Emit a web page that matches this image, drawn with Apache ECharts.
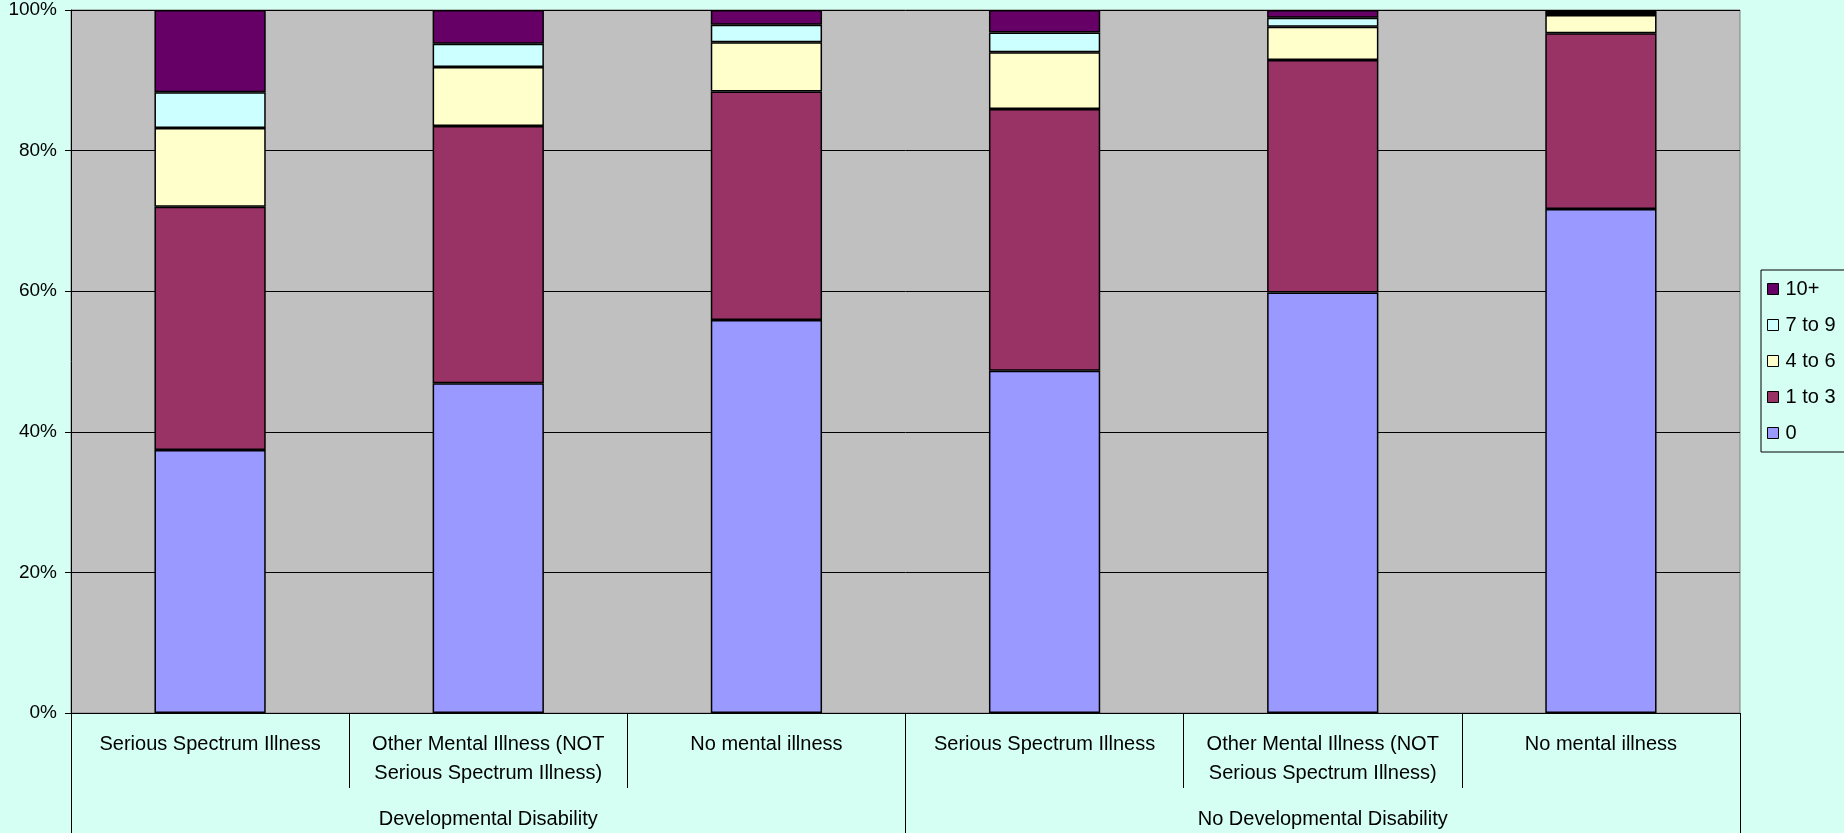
<!DOCTYPE html>
<html>
<head>
<meta charset="utf-8">
<title>Stacked bars</title>
<script src="https://cdn.jsdelivr.net/npm/echarts@6/dist/echarts.min.js"></script>
<style>
  html, body {
    margin: 0;
    padding: 0;
    background: #d4fff2;
  }
  #chart {
    width: 1844px;
    height: 833px;
  }
</style>
</head>
<body>
<div id="chart"></div>
<script>
  // categories (two levels on the x axis)
  var categories = [
    'Serious Spectrum Illness',
    'Other Mental Illness (NOT\nSerious Spectrum Illness)',
    'No mental illness',
    'Serious Spectrum Illness',
    'Other Mental Illness (NOT\nSerious Spectrum Illness)',
    'No mental illness'
  ];
  var groups = ['Developmental Disability', 'No Developmental Disability'];

  // percent of each bar
  var zero     = [37.4, 46.9, 55.9, 48.7, 59.8, 71.7];
  var oneToThree  = [34.6, 36.6, 32.5, 37.2, 33.1, 25.0];
  var fourToSix   = [11.2, 8.4, 7.0, 8.1, 4.7, 2.6];
  var sevenToNine = [5.1, 3.3, 2.5, 2.8, 1.3, 0.4];
  var tenPlus  = [11.7, 4.8, 2.1, 3.2, 1.1, 0.3];

  var seriesNames = ['0', '1 to 3', '4 to 6', '7 to 9', '10+'];
  var seriesData = [zero, oneToThree, fourToSix, sevenToNine, tenPlus];
  var colors = ['#9999ff', '#993366', '#ffffcc', '#ccffff', '#660066'];

  var font = '"Liberation Sans", Arial, sans-serif';

  var myChart = echarts.init(document.getElementById('chart'));

  var series = [];
  for (var i = 0; i < seriesNames.length; i++) {
    series.push({
      name: seriesNames[i],
      type: 'bar',
      stack: 'total',
      barWidth: '40%',
      xAxisIndex: 0,
      itemStyle: {
        color: colors[i],
        borderColor: '#000',
        borderWidth: 1.5
      },
      emphasis: { disabled: true },
      data: seriesData[i]
    });
  }

  var option = {
    backgroundColor: '#d4fff2',
    animation: false,
    textStyle: { fontFamily: font },
    grid: {
      left: 71,
      right: 104,
      top: 10,
      bottom: 120,
      show: true,
      backgroundColor: '#c0c0c0',
      borderColor: '#808080',
      borderWidth: 1
    },
    legend: {
      orient: 'vertical',
      left: 1761,
      top: 270,
      data: ['10+', '7 to 9', '4 to 6', '1 to 3', '0'],
      icon: 'rect',
      itemWidth: 11,
      itemHeight: 11,
      itemGap: 16,
      padding: [9, 30, 9, 6],
      borderColor: '#000',
      borderWidth: 1,
      backgroundColor: '#d4fff2',
      itemStyle: { borderColor: '#000', borderWidth: 1 },
      textStyle: {
        fontFamily: font,
        fontSize: 20,
        color: '#000',
        padding: [0, 0, 0, 2]
      }
    },
    xAxis: [{
      type: 'category',
      data: categories,
      position: 'bottom',
      axisLine: { lineStyle: { color: '#000', width: 1 } },
      axisTick: {
        show: true,
        interval: 0,
        length: 75,
        lineStyle: { color: '#000', width: 1 }
      },
      axisLabel: {
        interval: 0,
        margin: 17,
        fontFamily: font,
        fontSize: 20,
        lineHeight: 29,
        color: '#000'
      }
    }, {
      // outer level: group names
      type: 'category',
      data: groups,
      position: 'bottom',
      axisLine: { show: false },
      axisTick: {
        show: true,
        interval: 0,
        length: 120,
        lineStyle: { color: '#000', width: 1 }
      },
      axisLabel: {
        interval: 0,
        margin: 96,
        fontFamily: font,
        fontSize: 20,
        color: '#000'
      }
    }],
    yAxis: {
      type: 'value',
      min: 0,
      max: 100,
      interval: 20,
      axisLine: { show: true, lineStyle: { color: '#000', width: 1 } },
      axisTick: { show: true, length: 6, lineStyle: { color: '#000' } },
      axisLabel: {
        formatter: '{value}%',
        margin: 14,
        fontFamily: font,
        fontSize: 19,
        color: '#000'
      },
      splitLine: { lineStyle: { color: '#000', width: 1 } }
    },
    series: series
  };

  myChart.setOption(option);
</script>
</body>
</html>
